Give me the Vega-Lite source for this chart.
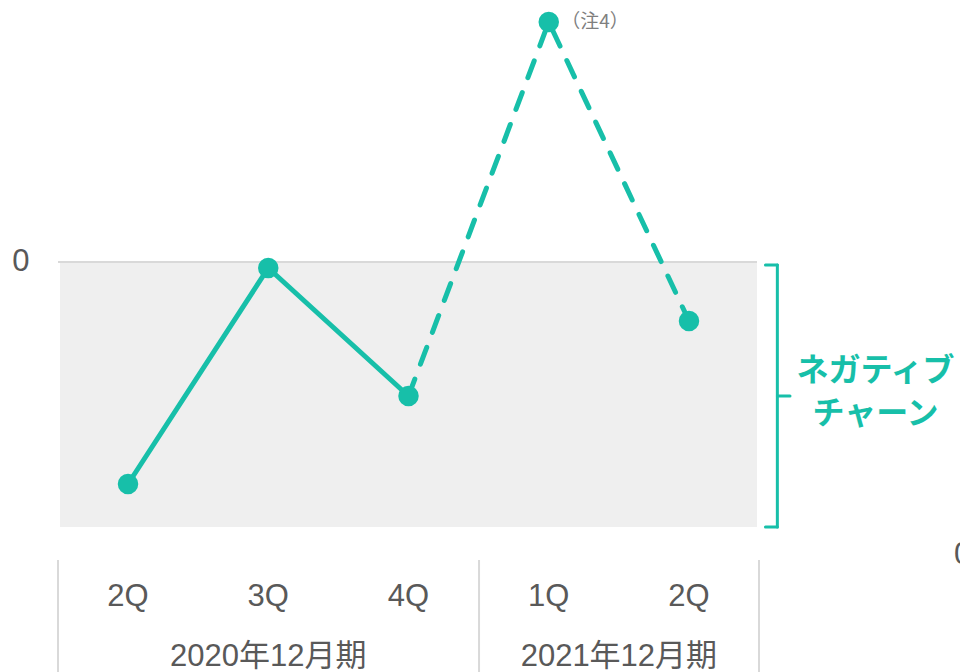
{
  "$schema": "https://vega.github.io/schema/vega-lite/v6.json",
  "width": 960,
  "height": 672,
  "autosize": {"type": "none"},
  "padding": 0,
  "background": "white",
  "config": {"view": {"stroke": null}},
  "datasets": {
    "series": [
      {"q": 0, "label": "2Q", "value": -222, "seg": "actual"},
      {"q": 1, "label": "3Q", "value": -6, "seg": "actual"},
      {"q": 2, "label": "4Q", "value": -134, "seg": "actual"},
      {"q": 2, "label": "4Q", "value": -134, "seg": "forecast"},
      {"q": 3, "label": "1Q", "value": 240, "seg": "forecast"},
      {"q": 4, "label": "2Q", "value": -59, "seg": "forecast"}
    ],
    "points": [
      {"q": 0, "label": "2Q", "value": -222},
      {"q": 1, "label": "3Q", "value": -6},
      {"q": 2, "label": "4Q", "value": -134},
      {"q": 3, "label": "1Q", "value": 240},
      {"q": 4, "label": "2Q", "value": -59}
    ],
    "band": [{"x": -0.4848, "x2": 4.4848, "y": 0, "y2": -265}],
    "bracket": [
      {"x": 4.63, "x2": 4.63, "y": -3, "y2": -265},
      {"x": 4.545, "x2": 4.63, "y": -3, "y2": -3},
      {"x": 4.545, "x2": 4.63, "y": -265, "y2": -265},
      {"x": 4.63, "x2": 4.72, "y": -134, "y2": -134}
    ],
    "separators": [
      {"x": -0.499, "y": -298, "y2": -410},
      {"x": 2.503, "y": -298, "y2": -410},
      {"x": 4.499, "y": -298, "y2": -410}
    ],
    "years": [
      {"x": 1.0, "text": "2020年12月期"},
      {"x": 3.5, "text": "2021年12月期"}
    ],
    "negLabel": [
      {"x": 5.33, "y": -109, "text": "ネガティブ"},
      {"x": 5.33, "y": -152, "text": "チャーン"}
    ]
  },
  "layer": [
    {
      "data": {"name": "band"},
      "mark": {"type": "rect", "color": "#efefef"},
      "encoding": {
        "x": {"field": "x", "type": "quantitative", "scale": {"domain": [-0.9127, 5.9323], "nice": false, "zero": false}, "axis": null},
        "x2": {"field": "x2"},
        "y": {"field": "y", "type": "quantitative", "scale": {"domain": [-410, 262], "nice": false, "zero": false}, "axis": null},
        "y2": {"field": "y2"}
      }
    },
    {
      "data": {"values": [{"x": -0.499, "x2": 4.4848, "y": 0}]},
      "mark": {"type": "rule", "color": "#d9d9d9", "strokeWidth": 2},
      "encoding": {
        "x": {"field": "x", "type": "quantitative"},
        "x2": {"field": "x2"},
        "y": {"field": "y", "type": "quantitative"}
      }
    },
    {
      "data": {"values": [{"x": -0.763, "y": 0, "text": "0"}]},
      "mark": {"type": "text", "font": "Liberation Sans", "fontSize": 31, "color": "#595959", "align": "center", "baseline": "middle"},
      "encoding": {
        "x": {"field": "x", "type": "quantitative"},
        "y": {"field": "y", "type": "quantitative"},
        "text": {"field": "text"}
      }
    },
    {
      "data": {"name": "series"},
      "transform": [{"filter": "datum.seg == 'actual'"}],
      "mark": {"type": "line", "color": "#17bfa9", "strokeWidth": 5, "strokeCap": "round"},
      "encoding": {
        "x": {"field": "q", "type": "quantitative"},
        "y": {"field": "value", "type": "quantitative"}
      }
    },
    {
      "data": {"name": "series"},
      "transform": [{"filter": "datum.seg == 'forecast'"}],
      "mark": {"type": "line", "color": "#17bfa9", "strokeWidth": 5, "strokeCap": "round", "strokeDash": [18, 16]},
      "encoding": {
        "x": {"field": "q", "type": "quantitative"},
        "y": {"field": "value", "type": "quantitative"}
      }
    },
    {
      "data": {"name": "points"},
      "mark": {"type": "point", "shape": "circle", "filled": true, "opacity": 1, "color": "#17bfa9", "size": 420},
      "encoding": {
        "x": {"field": "q", "type": "quantitative"},
        "y": {"field": "value", "type": "quantitative"}
      }
    },
    {
      "data": {"values": [{"x": 3.33, "y": 240, "text": "（注4）"}]},
      "mark": {"type": "text", "font": "Noto Sans CJK JP", "fontSize": 19, "color": "#7f7f7f", "align": "center", "baseline": "middle"},
      "encoding": {
        "x": {"field": "x", "type": "quantitative"},
        "y": {"field": "y", "type": "quantitative"},
        "text": {"field": "text"}
      }
    },
    {
      "data": {"name": "bracket"},
      "mark": {"type": "rule", "color": "#17bfa9", "strokeWidth": 3, "strokeCap": "round"},
      "encoding": {
        "x": {"field": "x", "type": "quantitative"},
        "x2": {"field": "x2"},
        "y": {"field": "y", "type": "quantitative"},
        "y2": {"field": "y2"}
      }
    },
    {
      "data": {"name": "negLabel"},
      "mark": {"type": "text", "font": "Noto Sans CJK JP", "fontWeight": "bold", "fontSize": 32, "color": "#17bfa9", "align": "center", "baseline": "middle"},
      "encoding": {
        "x": {"field": "x", "type": "quantitative"},
        "y": {"field": "y", "type": "quantitative"},
        "text": {"field": "text"}
      }
    },
    {
      "data": {"name": "separators"},
      "mark": {"type": "rule", "color": "#d9d9d9", "strokeWidth": 2},
      "encoding": {
        "x": {"field": "x", "type": "quantitative"},
        "y": {"field": "y", "type": "quantitative"},
        "y2": {"field": "y2"}
      }
    },
    {
      "data": {"name": "points"},
      "mark": {"type": "text", "font": "Liberation Sans", "fontSize": 31, "color": "#595959", "align": "center", "baseline": "middle"},
      "encoding": {
        "x": {"field": "q", "type": "quantitative"},
        "y": {"datum": -335, "type": "quantitative"},
        "text": {"field": "label"}
      }
    },
    {
      "data": {"name": "years"},
      "mark": {"type": "text", "font": "Liberation Sans, Noto Sans CJK JP", "fontSize": 31, "color": "#595959", "align": "center", "baseline": "middle"},
      "encoding": {
        "x": {"field": "x", "type": "quantitative"},
        "y": {"datum": -395, "type": "quantitative"},
        "text": {"field": "text"}
      }
    },
    {
      "data": {"values": [{"x": 5.89, "y": -293, "text": "0"}]},
      "mark": {"type": "text", "font": "Liberation Sans", "fontSize": 31, "color": "#595959", "align": "left", "baseline": "middle"},
      "encoding": {
        "x": {"field": "x", "type": "quantitative"},
        "y": {"field": "y", "type": "quantitative"},
        "text": {"field": "text"}
      }
    }
  ]
}
